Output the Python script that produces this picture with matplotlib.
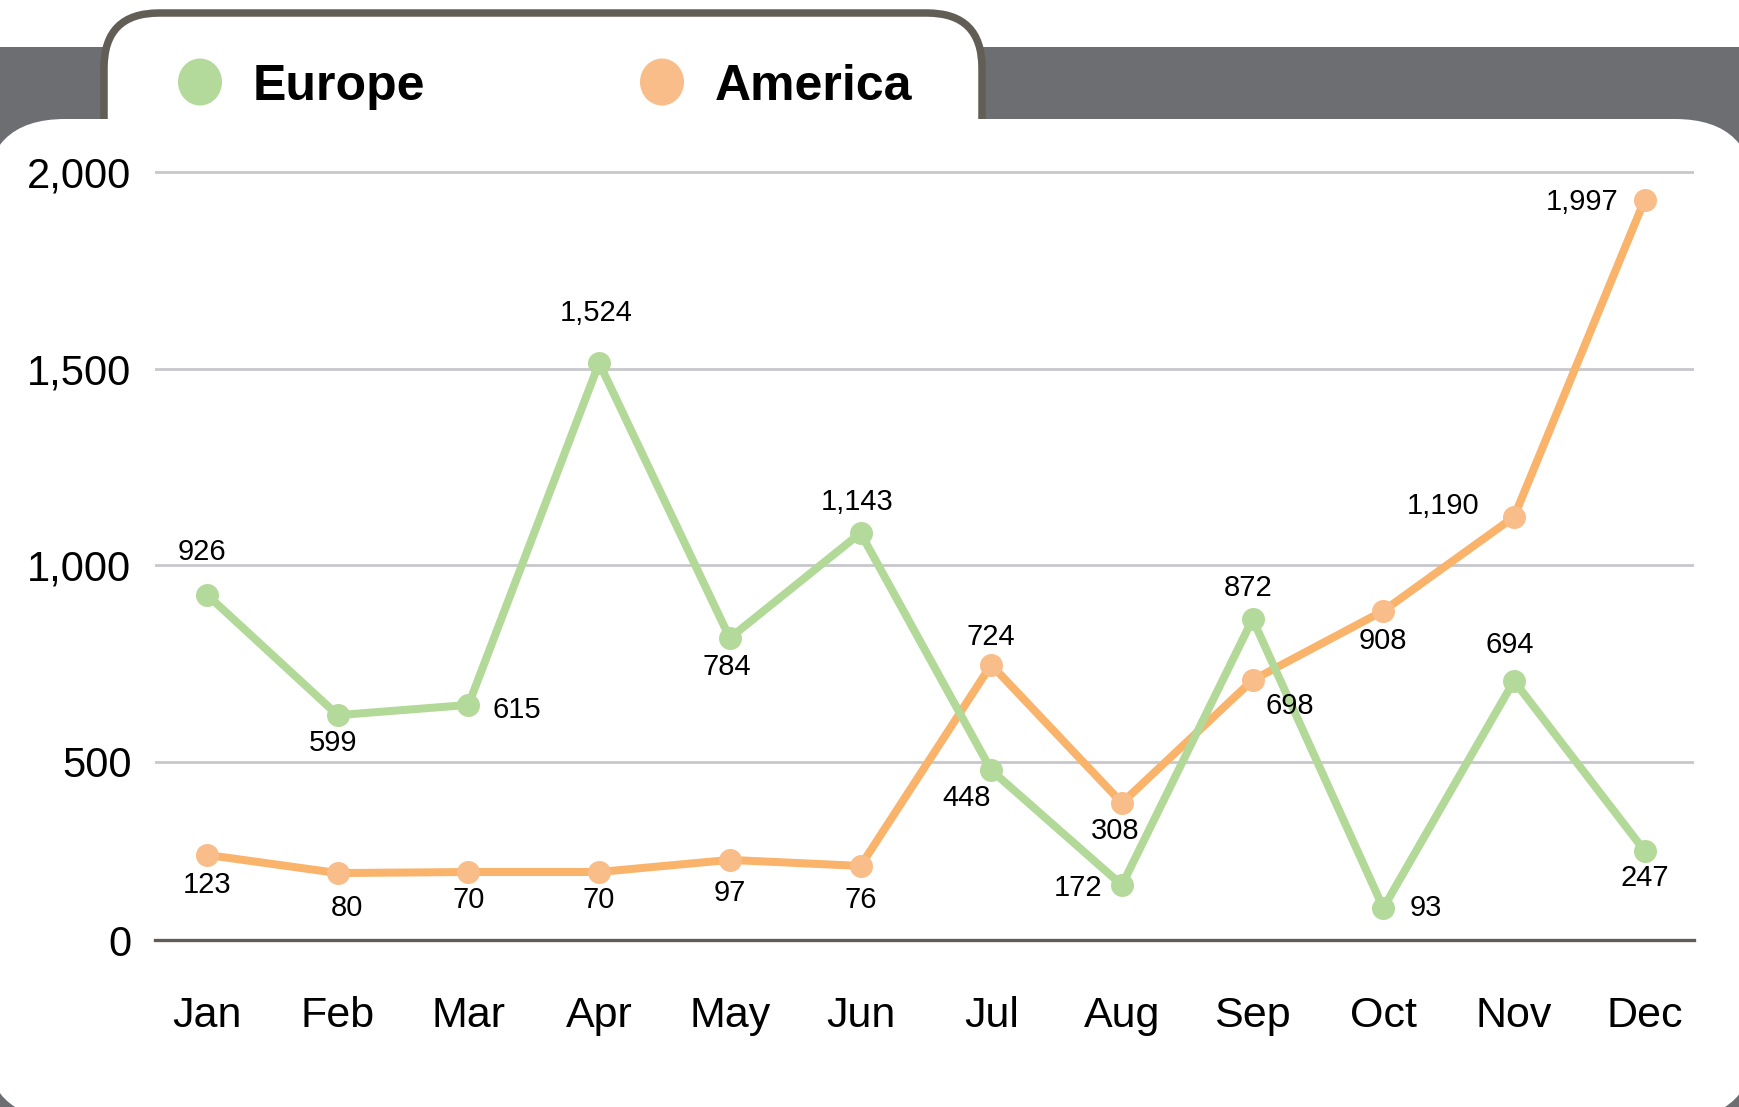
import numpy as np
import matplotlib.pyplot as plt
from matplotlib.patches import FancyBboxPatch, Rectangle, Ellipse

plt.rcParams['font.family'] = ['Liberation Sans', 'DejaVu Sans']

#%% data (plotted heights, printed labels as written on it)

months = ['Jan', 'Feb', 'Mar', 'Apr', 'May', 'Jun', 'Jul', 'Aug', 'Sep', 'Oct', 'Nov', 'Dec']
series_names = ['Europe', 'America']

europe = [925, 619, 645, 1514, 815, 1082, 477, 154, 863, 90, 706, 250]
america = [239, 188, 191, 191, 225, 208, 747, 385, 708, 884, 1123, 1929]

europe_labels = [926, 599, 615, 1524, 784, 1143, 448, 172, 872, 93, 694, 247]
america_labels = [123, 80, 70, 70, 97, 76, 724, 308, 698, 908, 1190, 1997]

y_ticks = [0, 500, 1000, 1500, 2000]

#%% layout / style

W, H = 1740, 1107
DPI = 100
PX = 72 / DPI   # pixels -> points

green_line, green_dot = '#b3d998', '#b4da9b'
orange_line, orange_dot = '#f9b36a', '#f8bd88'
band_c = '#6d6e72'
tab_c = '#625e56'
grid_c = '#c8c8cc'

# label offsets (pixels, image y down)
eu_off = [(-5, -43), (-5, 28), (48, 5), (-3, -50), (-3, 29), (-3, -31),
          (-25, 28), (-44, 3), (-4, -31), (42, 0), (-4, -36), (0, 27)]
am_off = [(0, 30), (9, 35), (0, 28), (0, 28), (0, 33), (0, 34),
          (0, -28), (-7, 28), (37, 26), (0, 30), (-71, -11), (-63, 2)]

# the value axis below 500 is drawn a bit tighter than above it
K = 178 / 196.7

def fwd(y):
    y = np.asarray(y, dtype=float)
    return np.where(y < 500, y * K, y - 500 + 500 * K)

def inv(u):
    u = np.asarray(u, dtype=float)
    return np.where(u < 500 * K, u / K, u + 500 - 500 * K)

#%% figure

fig = plt.figure(figsize=(W / DPI, H / DPI), dpi=DPI)
fig.patch.set_facecolor('white')

bg = fig.add_axes([0, 0, 1, 1], zorder=0)
bg.set_xlim(0, W)
bg.set_ylim(H, 0)
bg.axis('off')

bg.add_patch(Rectangle((0, 47), W, H - 47, color=band_c, lw=0))
bg.add_patch(FancyBboxPatch((104, 13), 878, 200, boxstyle='round,pad=0,rounding_size=55',
                            facecolor='white', edgecolor=tab_c, lw=7.5 * PX))
bg.add_patch(FancyBboxPatch((-15, 119), W + 30, 1000, boxstyle='round,pad=0,rounding_size=80',
                            facecolor='white', edgecolor='none'))

# legend in the tab
for name, c, cx in zip(series_names, [green_dot, orange_dot], [200, 662]):
    bg.add_patch(Ellipse((cx, 82), 44, 47, color=c, lw=0))
    bg.text(cx + 53, 100, name, fontsize=36, fontweight='bold', va='baseline', ha='left')

ax = fig.add_axes([155 / W, (H - 940) / H, (1694 - 155) / W, (940 - 160) / H], zorder=1)
ax.patch.set_visible(False)
ax.set_yscale('function', functions=(fwd, inv))

x = np.arange(len(months))

ax.plot(x, america, color=orange_line, lw=8 * PX, zorder=3, solid_capstyle='round')
ax.plot(x, america, 'o', ms=23 * PX, color=orange_dot, mec='none', zorder=4)
ax.plot(x, europe, color=green_line, lw=8 * PX, zorder=5, solid_capstyle='round')
ax.plot(x, europe, 'o', ms=23 * PX, color=green_dot, mec='none', zorder=6)

for vals, labs, offs in [(europe, europe_labels, eu_off), (america, america_labels, am_off)]:
    for i in range(len(months)):
        ax.annotate(f'{labs[i]:,}', (x[i], vals[i]), xytext=(offs[i][0] * PX, -offs[i][1] * PX),
                    textcoords='offset points', ha='center', va='center', fontsize=21,
                    zorder=7, annotation_clip=False)

ax.set_xlim(-0.398, 11.377)
ax.set_ylim(0, 2030)
ax.set_xticks(x)
ax.set_xticklabels(months, fontsize=31)
ax.set_yticks(y_ticks)
ax.set_yticklabels([f'{v:,}' for v in y_ticks], fontsize=30)
ax.yaxis.set_minor_locator(plt.NullLocator())
ax.tick_params(axis='both', length=0)
ax.tick_params(axis='y', pad=17)
ax.tick_params(axis='x', pad=40)

ax.grid(axis='y', color=grid_c, lw=2)
ax.grid(axis='x', visible=False)
ax.set_axisbelow(True)
for s in ['top', 'right', 'left']:
    ax.spines[s].set_visible(False)
ax.spines['bottom'].set_color('#5f5c55')
ax.spines['bottom'].set_linewidth(3.3 * PX)
ax.spines['bottom'].set_zorder(2)

fig.savefig('out.png', dpi=DPI)
